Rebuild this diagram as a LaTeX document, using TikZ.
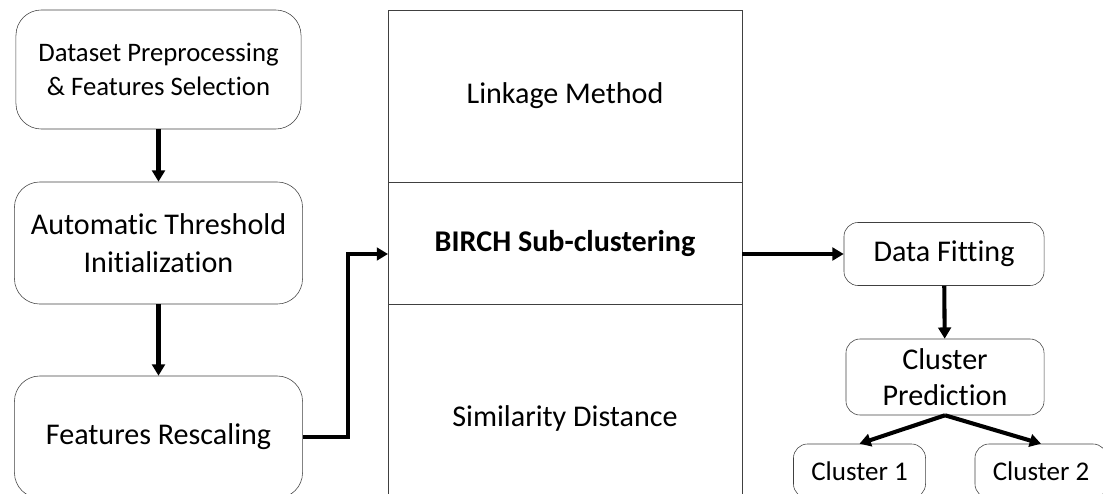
\documentclass[tikz,border=0pt]{standalone}
\usepackage{fontspec}
\setmainfont{Carlito}[Ligatures=NoCommon]
\usetikzlibrary{arrows.meta,positioning}

\begin{document}
\begin{tikzpicture}[x=0.025cm, y=-0.025cm,
  step box/.style={rectangle, rounded corners=18pt, draw=black!75, thin,
                   minimum width=7.2cm, minimum height=3.05cm,
                   font=\fontsize{21.4}{27}\selectfont, align=center},
  part/.style={rectangle, draw=black!75, thin, minimum width=8.85cm,
               font=\fontsize{21.4}{27}\selectfont},
  small box/.style={rectangle, rounded corners=10pt, draw=black!75, thin,
                    minimum width=5cm, font=\fontsize{21.4}{25.6}\selectfont,
                    align=center},
  leaf/.style={rectangle, rounded corners=10pt, draw=black!75, thin,
               minimum width=3.3cm, minimum height=1.35cm,
               font=\fontsize{19.2}{23}\selectfont},
  flow/.style={-{Triangle[length=8pt, width=9pt]}, line width=2.9pt},
]
  \useasboundingbox (0,0) rectangle (1103,493);
  \clip (0,0) rectangle (1103,493);

  % left pipeline
  \node[step box, minimum width=7.125cm, minimum height=2.975cm,
        font=\fontsize{19}{24.2}\selectfont] (prep) at (158.5,69.5)
        {Dataset Preprocessing\\\& Features Selection};
  \node[step box] (thresh) at (158.5,243) {Automatic Threshold\\Initialization};
  \node[step box] (rescale) at (158.5,437) {Features Rescaling};

  % central column
  \node[part, minimum height=4.3cm] (link) at (565,96) {Linkage Method};
  \node[part, minimum height=3.05cm, font=\fontsize{21.4}{27}\selectfont\bfseries]
        (birch) at (565,243) {BIRCH Sub-clustering};
  \node[part, minimum height=5.7cm] (simdist) at (565,418) {Similarity Distance};
  \coordinate (birch in) at (388,254);
  \coordinate (birch out) at (742,254);
  \coordinate (bend) at (348,437);

  % right side
  \node[small box, minimum height=1.575cm] (fit) at (944,254) {Data Fitting};
  \node[small box, minimum width=4.95cm, minimum height=1.9cm]
        (predict) at (945,377) {Cluster\\Prediction};
  \node[leaf] (c1) at (859.5,471) {Cluster 1};
  \node[leaf] (c2) at (1041,471) {Cluster 2};

  \draw[flow] (prep) -- (thresh);
  \draw[flow] (thresh) -- (rescale);
  \draw[flow] (rescale.east) -- (bend) |- (birch in);
  \draw[flow] (birch out) -- (fit.west);
  \draw[flow] (fit) -- (predict);
  \draw[flow] (predict.south) -- (c1.north);
  \draw[flow] (predict.south) -- (c2.north);
\end{tikzpicture}
\end{document}
